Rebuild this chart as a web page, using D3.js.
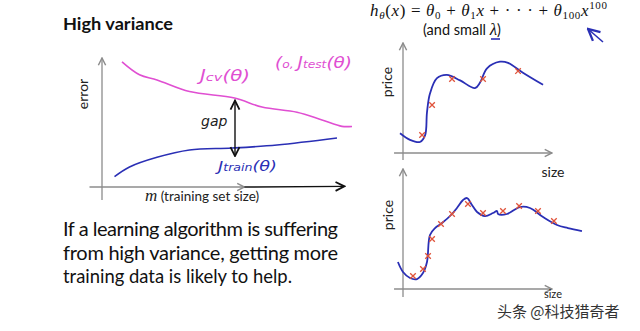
<!DOCTYPE html>
<html><head><meta charset="utf-8">
<script src="https://cdn.jsdelivr.net/npm/d3@7"></script>
<style>body{margin:0;background:#fff}svg{display:block}</style>
</head><body>
<svg id="c" width="640" height="331"></svg>
<script>
// ---- data ----
// learning curves (m = training set size, error)
const jcvM    = [8, 15, 22, 35, 53, 64, 78, 88, 96, 100];
const jcvErr  = [97, 87, 83, 74, 69, 62, 58, 52, 47, 47];
const jtrM    = [5, 11, 22, 35, 52, 70, 94];
const jtrErr  = [8, 15.5, 23, 28.7, 30.2, 32.6, 38];
// top-right fit (size, price)
const fit1Size  = [-2, 4.7, 11.4, 14.8, 16.1, 18.1, 22.8, 29.5, 38.3, 48.3, 51.7, 56.4, 65.1, 70.5, 80.5, 94];
const fit1Price = [18, 12, 10, 16, 37, 54, 68, 71, 66, 59, 64, 77, 83, 82, 73, 62];
const pts1Size  = [12.8, 19.5, 32.9, 53.7, 77.2];
const pts1Price = [16.4, 43.6, 67.3, 67.3, 74.5];
// bottom-right fit
const fit2Size  = [-3.4, 0, 4.7, 9.4, 13.4, 16.1, 18.1, 21.5, 26.2, 32.9, 36.2, 40.3, 43, 46.3, 49.7, 55, 60.4, 63.1, 63.8, 69.8, 78.5, 85.2, 94, 103.4, 110.7, 120.1];
const fit2Price = [22.5, 14.2, 9.2, 8.3, 13.3, 22.5, 45, 50.8, 55, 62.5, 67.5, 74.2, 75.8, 70, 64.2, 60.8, 63.3, 65, 62.5, 62.5, 68.3, 67.5, 60, 53.3, 50.8, 48.3];
const pts2Size  = [6.7, 13.4, 16.8, 19.5, 25.5, 32.9, 43.6, 53.7, 67.1, 77.9, 90.6, 101.3];
const pts2Price = [10.8, 16.7, 27.5, 41.7, 54.2, 62.5, 70.8, 63.3, 65, 69.2, 65, 56.7];
const gapErr = [24, 67];
const paragraph = ["If a learning algorithm is suffering", "from high variance, getting more", "training data is likely to help."];

const svg = d3.select("#c");
const AX = "#8c8c8c";
const PINK = "#e04fd2", BLUE = "#2a2fb5", RED = "#e0533a";
const SANS = "Lato, 'Open Sans', sans-serif";

// arrow markers
const defs = svg.append("defs");
function marker(id, color, w) {
  defs.append("marker").attr("id", id).attr("viewBox", "0 0 10 10").attr("refX", 9).attr("refY", 5)
    .attr("markerWidth", w).attr("markerHeight", w).attr("orient", "auto-start-reverse")
    .append("path").attr("d", "M1,1 L9,5 L1,9").attr("fill", "none").attr("stroke", color).attr("stroke-width", 1.6);
}
marker("ga", AX, 7); marker("ka", "#111", 8); marker("ba", BLUE, 9);

// ---- left chart ----
const xL = d3.scaleLinear().domain([0, 100]).range([102, 352]);
const yL = d3.scaleLinear().domain([0, 100]).range([187, 58]);
const gL = svg.append("g");
gL.append("line").attr("x1", xL(0)).attr("x2", xL(0)).attr("y1", yL(-10)).attr("y2", yL(100))
  .attr("stroke", AX).attr("stroke-width", 1.3).attr("marker-end", "url(#ga)");
gL.append("line").attr("x1", xL(-5)).attr("x2", xL(57)).attr("y1", yL(0)).attr("y2", yL(0))
  .attr("stroke", AX).attr("stroke-width", 1.3).attr("marker-end", "url(#ga)");
gL.append("line").attr("x1", xL(57)).attr("x2", xL(97)).attr("y1", yL(0)).attr("y2", yL(0.5))
  .attr("stroke", "#111").attr("stroke-width", 1.4).attr("marker-end", "url(#ka)");

const curve = d3.line().curve(d3.curveCatmullRom.alpha(0.5));
gL.append("path").attr("d", curve.x((d, i) => xL(jcvM[i])).y(d => yL(d))(jcvErr))
  .attr("fill", "none").attr("stroke", PINK).attr("stroke-width", 1.6);
gL.append("path").attr("d", curve.x((d, i) => xL(jtrM[i])).y(d => yL(d))(jtrErr))
  .attr("fill", "none").attr("stroke", BLUE).attr("stroke-width", 1.6);
// gap arrow
gL.append("line").attr("x1", xL(53.2)).attr("x2", xL(53.2)).attr("y1", yL(gapErr[1])).attr("y2", yL(gapErr[0]))
  .attr("stroke", "#111").attr("stroke-width", 1.4).attr("marker-start", "url(#ka)").attr("marker-end", "url(#ka)");
gL.append("text").attr("x", 201).attr("y", 126).text("gap")
  .attr("font-family", "'DejaVu Sans', sans-serif").attr("font-style", "italic").attr("font-size", 14).attr("fill", "#222");
// hand labels
function handLabel(x, y, parts, color, size, len) {
  const t = svg.append("text").attr("x", x).attr("y", y).attr("fill", color)
    .attr("font-family", "'DejaVu Sans', sans-serif").attr("font-style", "italic").attr("font-size", size)
    .attr("textLength", len).attr("lengthAdjust", "spacingAndGlyphs");
  parts.forEach(p => t.append("tspan").text(p[0]).attr("font-size", p[1] || size));
}
handLabel(200, 81, [["J"], ["cv", 11], ["(θ)"]], PINK, 15, 50);
handLabel(275, 68, [["(", 15], ["o, ", 10], ["J"], ["test", 10], ["(θ)"]], PINK, 15, 77);
handLabel(218, 171, [["J"], ["train", 10], ["(θ)"]], BLUE, 14, 59);

svg.append("text").attr("transform", "translate(88,94) rotate(-90)").attr("text-anchor", "middle")
  .attr("font-family", SANS).attr("font-size", 14).attr("fill", "#222").text("error");
const mt = svg.append("text").attr("x", 145).attr("y", 201).attr("fill", "#222");
mt.append("tspan").text("m").attr("font-family", "'Liberation Serif', serif").attr("font-style", "italic").attr("font-size", 17);
mt.append("tspan").text(" (training set size)").attr("font-family", SANS).attr("font-size", 13.5);

// title + paragraph
svg.append("text").attr("x", 63).attr("y", 30).text("High variance")
  .attr("font-family", SANS).attr("font-weight", "bold").attr("font-size", 17.5).attr("fill", "#111")
  .attr("textLength", 110).attr("lengthAdjust", "spacingAndGlyphs");
paragraph.forEach((line, i) => {
  const t = svg.append("text").attr("x", 63).attr("y", 236 + i * 23.5).text(line)
    .attr("font-family", SANS).attr("font-size", 20).attr("fill", "#111");
  if (i < 2) t.attr("textLength", 275).attr("lengthAdjust", "spacing");
  else t.attr("textLength", 229).attr("lengthAdjust", "spacingAndGlyphs");
});

// ---- right charts ----
function fitChart(y0, y100, yBottom, sizes, prices, ps, pp) {
  const x = d3.scaleLinear().domain([0, 100]).range([403, 552]);
  const y = d3.scaleLinear().domain([0, 100]).range([y0, y100]);
  const g = svg.append("g");
  g.append("line").attr("x1", x(0)).attr("x2", x(0)).attr("y1", yBottom).attr("y2", y(100))
    .attr("stroke", AX).attr("stroke-width", 1.3).attr("marker-end", "url(#ga)");
  g.append("line").attr("x1", x(-6)).attr("x2", x(100)).attr("y1", y(0)).attr("y2", y(0))
    .attr("stroke", AX).attr("stroke-width", 1.3).attr("marker-end", "url(#ga)");
  g.append("path").attr("d", d3.line().curve(d3.curveCatmullRom.alpha(0.5)).x((d, i) => x(sizes[i])).y(d => y(d))(prices))
    .attr("fill", "none").attr("stroke", BLUE).attr("stroke-width", 1.8);
  g.selectAll("path.pt").data(pp).join("path").attr("class", "pt")
    .attr("transform", (d, i) => `translate(${x(ps[i])},${y(d)})`)
    .attr("d", d3.symbol().type(d3.symbolX).size(22)())
    .attr("fill", "none").attr("stroke", RED).attr("stroke-width", 1.3);
  return { x, y };
}
fitChart(153, 43, 160, fit1Size, fit1Price, pts1Size, pts1Price);
fitChart(289, 169, 297, fit2Size, fit2Price, pts2Size, pts2Price);

svg.append("text").attr("transform", "translate(392,82) rotate(-90)").attr("text-anchor", "middle")
  .attr("font-family", SANS).attr("font-size", 14).attr("fill", "#222").text("price");
svg.append("text").attr("transform", "translate(393,215) rotate(-90)").attr("text-anchor", "middle")
  .attr("font-family", SANS).attr("font-size", 14).attr("fill", "#222").text("price");
svg.append("text").attr("x", 553).attr("y", 177).attr("text-anchor", "middle")
  .attr("font-family", SANS).attr("font-size", 14).attr("fill", "#222").text("size");
svg.append("text").attr("x", 553).attr("y", 298).attr("text-anchor", "middle")
  .attr("font-family", SANS).attr("font-size", 11).attr("fill", "#222").text("size");

// formula
const f = svg.append("text").attr("x", 370).attr("y", 16).attr("fill", "#111")
  .attr("font-family", "'Liberation Serif', 'DejaVu Serif', serif").attr("font-size", 17);
[["h", "i"], ["θ", "i", 11, 3], ["(", "n", 17, -3], ["x", "i"], [") = ", "n"], ["θ", "i"], ["0", "n", 11, 3],
 [" + ", "n", 17, -3], ["θ", "i"], ["1", "n", 11, 3], ["x", "i", 17, -3], [" + · · · + ", "n"], ["θ", "i"],
 ["100", "n", 11, 3], ["x", "i", 17, -3], ["100", "n", 11, -7]].forEach(p => {
  const ts = f.append("tspan").text(p[0]).attr("font-style", p[1] === "i" ? "italic" : "normal");
  if (p[2]) ts.attr("font-size", p[2]);
  if (p[3]) ts.attr("dy", p[3]);
});
f.attr("textLength", 237).attr("lengthAdjust", "spacing");
const sm = svg.append("text").attr("x", 423).attr("y", 35).attr("fill", "#111")
  .attr("font-family", SANS).attr("font-size", 14.5);
sm.append("tspan").text("(and small ");
sm.append("tspan").text("λ").attr("font-family", "'Liberation Serif', serif").attr("font-style", "italic").attr("font-size", 17);
sm.append("tspan").text(")");
svg.append("line").attr("x1", 491).attr("x2", 500).attr("y1", 39).attr("y2", 39).attr("stroke", BLUE).attr("stroke-width", 1.6);
svg.append("line").attr("x1", 603).attr("y1", 42).attr("x2", 588).attr("y2", 29)
  .attr("stroke", BLUE).attr("stroke-width", 1.6).attr("marker-end", "url(#ba)");

// watermark
svg.append("text").attr("x", 497).attr("y", 317).text("头条 @科技猎奇者")
  .attr("font-family", "'Noto Sans CJK SC', sans-serif").attr("font-size", 15).attr("fill", "#333");
</script>
</body></html>
